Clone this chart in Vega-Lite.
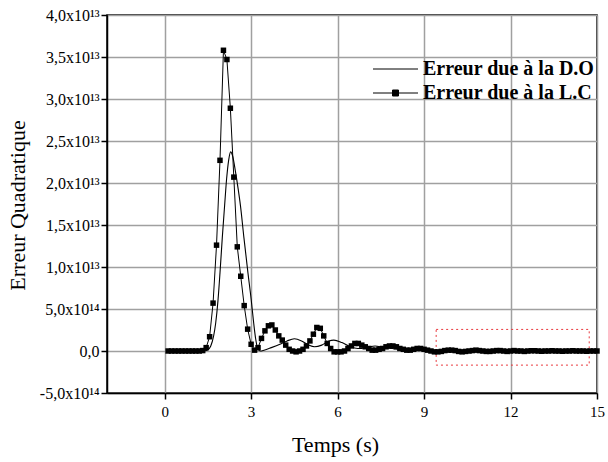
{
  "$schema": "https://vega.github.io/schema/vega-lite/v6.json",
  "width": 490,
  "height": 378,
  "autosize": {"type": "none"},
  "padding": {"left": 107, "top": 15, "right": 11, "bottom": 69},
  "background": "white",
  "datasets": {
    "do": [
      {"t": 0.1, "e": 0}, {"t": 0.5, "e": 0}, {"t": 1.0, "e": 0}, {"t": 1.3, "e": 0},
      {"t": 1.4, "e": 0.003}, {"t": 1.5, "e": 0.015}, {"t": 1.6, "e": 0.06}, {"t": 1.7, "e": 0.18},
      {"t": 1.77, "e": 0.33}, {"t": 1.85, "e": 0.6}, {"t": 1.92, "e": 0.93}, {"t": 2.0, "e": 1.35},
      {"t": 2.08, "e": 1.73}, {"t": 2.15, "e": 2.05}, {"t": 2.22, "e": 2.27}, {"t": 2.29, "e": 2.37},
      {"t": 2.36, "e": 2.32}, {"t": 2.46, "e": 2.13}, {"t": 2.55, "e": 1.93}, {"t": 2.63, "e": 1.73},
      {"t": 2.75, "e": 1.35}, {"t": 2.89, "e": 0.93}, {"t": 3.0, "e": 0.62}, {"t": 3.09, "e": 0.33},
      {"t": 3.16, "e": 0.14}, {"t": 3.23, "e": 0.03}, {"t": 3.32, "e": 0.0}, {"t": 3.45, "e": 0.01},
      {"t": 3.7, "e": 0.04}, {"t": 4.0, "e": 0.08}, {"t": 4.25, "e": 0.12}, {"t": 4.5, "e": 0.145},
      {"t": 4.75, "e": 0.12}, {"t": 5.0, "e": 0.07}, {"t": 5.2, "e": 0.05}, {"t": 5.45, "e": 0.07},
      {"t": 5.7, "e": 0.12}, {"t": 5.87, "e": 0.13}, {"t": 6.15, "e": 0.1}, {"t": 6.44, "e": 0.05},
      {"t": 6.7, "e": 0.03}, {"t": 7.0, "e": 0.04}, {"t": 7.3, "e": 0.06}, {"t": 7.6, "e": 0.04},
      {"t": 7.9, "e": 0.03}, {"t": 8.2, "e": 0.02}, {"t": 8.5, "e": 0.03}, {"t": 8.8, "e": 0.02},
      {"t": 9.1, "e": 0.01}, {"t": 9.5, "e": 0.0}, {"t": 10.0, "e": 0.005}, {"t": 10.5, "e": 0.0},
      {"t": 11.0, "e": 0.003}, {"t": 12.0, "e": 0.0}, {"t": 13.0, "e": 0.0}, {"t": 14.0, "e": 0.0},
      {"t": 15.0, "e": 0.0}
    ],
    "lc": [
      {"t": 0.12, "e": 0}, {"t": 0.24, "e": 0}, {"t": 0.36, "e": 0}, {"t": 0.48, "e": 0},
      {"t": 0.6, "e": 0}, {"t": 0.72, "e": 0}, {"t": 0.84, "e": 0}, {"t": 0.96, "e": 0},
      {"t": 1.08, "e": 0}, {"t": 1.2, "e": 0}, {"t": 1.32, "e": 0.005}, {"t": 1.44, "e": 0.04},
      {"t": 1.56, "e": 0.17}, {"t": 1.68, "e": 0.57}, {"t": 1.8, "e": 1.26}, {"t": 1.92, "e": 2.27},
      {"t": 2.04, "e": 3.58}, {"t": 2.16, "e": 3.47}, {"t": 2.28, "e": 2.89}, {"t": 2.4, "e": 2.07},
      {"t": 2.52, "e": 1.24}, {"t": 2.64, "e": 0.89}, {"t": 2.76, "e": 0.54}, {"t": 2.88, "e": 0.26},
      {"t": 3.0, "e": 0.08}, {"t": 3.12, "e": 0.01}, {"t": 3.24, "e": 0.04}, {"t": 3.36, "e": 0.15},
      {"t": 3.48, "e": 0.24}, {"t": 3.6, "e": 0.3}, {"t": 3.72, "e": 0.31}, {"t": 3.84, "e": 0.25},
      {"t": 3.96, "e": 0.18}, {"t": 4.08, "e": 0.13}, {"t": 4.2, "e": 0.07}, {"t": 4.32, "e": 0.02},
      {"t": 4.44, "e": 0.0}, {"t": 4.56, "e": -0.01}, {"t": 4.68, "e": 0.0}, {"t": 4.8, "e": 0.02},
      {"t": 4.92, "e": 0.06}, {"t": 5.04, "e": 0.12}, {"t": 5.16, "e": 0.2}, {"t": 5.28, "e": 0.28},
      {"t": 5.4, "e": 0.27}, {"t": 5.52, "e": 0.18}, {"t": 5.64, "e": 0.09}, {"t": 5.76, "e": 0.03},
      {"t": 5.88, "e": -0.01}, {"t": 6.0, "e": -0.01}, {"t": 6.12, "e": -0.01}, {"t": 6.24, "e": 0.0},
      {"t": 6.36, "e": 0.03}, {"t": 6.48, "e": 0.06}, {"t": 6.6, "e": 0.09}, {"t": 6.72, "e": 0.09},
      {"t": 6.84, "e": 0.07}, {"t": 6.96, "e": 0.05}, {"t": 7.08, "e": 0.03}, {"t": 7.2, "e": 0.01},
      {"t": 7.32, "e": 0.01}, {"t": 7.44, "e": 0.02}, {"t": 7.56, "e": 0.03}, {"t": 7.68, "e": 0.05},
      {"t": 7.8, "e": 0.06}, {"t": 7.92, "e": 0.06}, {"t": 8.04, "e": 0.05}, {"t": 8.16, "e": 0.03},
      {"t": 8.28, "e": 0.02}, {"t": 8.4, "e": 0.01}, {"t": 8.52, "e": 0.01}, {"t": 8.64, "e": 0.02},
      {"t": 8.76, "e": 0.03}, {"t": 8.88, "e": 0.03}, {"t": 9.0, "e": 0.02}, {"t": 9.12, "e": 0.01},
      {"t": 9.24, "e": 0.0}, {"t": 9.36, "e": -0.01}, {"t": 9.48, "e": -0.01}, {"t": 9.6, "e": -0.005},
      {"t": 9.72, "e": 0.005}, {"t": 9.84, "e": 0.01}, {"t": 9.96, "e": 0.01}, {"t": 10.08, "e": 0.005},
      {"t": 10.2, "e": -0.005}, {"t": 10.32, "e": -0.01}, {"t": 10.44, "e": -0.005}, {"t": 10.56, "e": 0.0},
      {"t": 10.68, "e": 0.005}, {"t": 10.8, "e": 0.01}, {"t": 10.92, "e": 0.005}, {"t": 11.04, "e": 0.0},
      {"t": 11.16, "e": -0.005}, {"t": 11.28, "e": -0.005}, {"t": 11.4, "e": 0.0}, {"t": 11.52, "e": 0.005},
      {"t": 11.64, "e": 0.005}, {"t": 11.76, "e": 0.0}, {"t": 11.88, "e": -0.005}, {"t": 12.0, "e": 0.0},
      {"t": 12.12, "e": 0.005}, {"t": 12.24, "e": 0.0}, {"t": 12.36, "e": 0.0}, {"t": 12.48, "e": -0.005},
      {"t": 12.6, "e": 0.0}, {"t": 12.72, "e": 0.003}, {"t": 12.84, "e": 0.003}, {"t": 12.96, "e": 0.0},
      {"t": 13.08, "e": -0.003}, {"t": 13.2, "e": 0.0}, {"t": 13.32, "e": 0.0}, {"t": 13.44, "e": 0.003},
      {"t": 13.56, "e": 0.0}, {"t": 13.68, "e": 0.0}, {"t": 13.8, "e": -0.003}, {"t": 13.92, "e": 0.0},
      {"t": 14.04, "e": 0.0}, {"t": 14.16, "e": 0.003}, {"t": 14.28, "e": 0.0}, {"t": 14.4, "e": 0.0},
      {"t": 14.52, "e": 0.0}, {"t": 14.64, "e": -0.003}, {"t": 14.76, "e": 0.0}, {"t": 14.88, "e": 0.0},
      {"t": 15.0, "e": 0.0}
    ]
  },
  "layer": [
    {
      "data": {"values": [{"t1": 9.42, "t2": 14.73, "e1": 0.257, "e2": -0.168}]},
      "mark": {"type": "rect", "filled": false, "stroke": "#e8383d", "strokeWidth": 1, "strokeDash": [2, 3]},
      "encoding": {
        "x": {"field": "t1", "type": "quantitative", "scale": {"domain": [-2, 15], "nice": false, "zero": false},
          "axis": {"values": [0, 3, 6, 9, 12, 15], "title": "Temps (s)", "titleX": 228, "titleY": 51, "titleBaseline": "middle"}},
        "x2": {"field": "t2"},
        "y": {"field": "e1", "type": "quantitative", "scale": {"domain": [-0.5, 4.0], "nice": false, "zero": false},
          "axis": {
            "values": [-0.5, 0, 0.5, 1.0, 1.5, 2.0, 2.5, 3.0, 3.5, 4.0],
            "title": "Erreur Quadratique",
            "titleX": -90, "titleY": 190, "titleBaseline": "middle", "titleAngle": -90,
            "labelFontSize": 16,
            "labelExpr": "datum.value == 0 ? '0,0' : datum.value == 0.5 ? '5,0x10¹⁴' : datum.value == -0.5 ? '-5,0x10¹⁴' : replace(format(datum.value, '.1f'), '.', ',') + 'x10¹³'"
          }},
        "y2": {"field": "e2"}
      }
    },
    {
      "data": {"name": "do"},
      "mark": {"type": "line", "interpolate": "monotone", "strokeWidth": 1.1},
      "encoding": {
        "x": {"field": "t", "type": "quantitative"},
        "y": {"field": "e", "type": "quantitative"},
        "color": {
          "datum": "D.O", "type": "nominal",
          "scale": {"domain": ["D.O", "L.C"], "range": ["black", "black"]},
          "legend": {
            "orient": "none", "legendX": 291, "legendY": 44, "title": null,
            "padding": 0, "symbolSize": 100, "labelOffset": 5, "rowPadding": 4,
            "labelFont": "Liberation Serif", "labelFontSize": 20, "labelFontWeight": "bold",
            "labelColor": "black", "labelLimit": 400,
            "labelExpr": "'Erreur due à la ' + datum.label",
            "encode": {
              "symbols": {
                "update": {
                  "shape": {"signal": "datum.value === 'L.C' ? 'M-7,0H2M-3.1,-0.6H-1.9V0.6H-3.1Z' : 'M-7,0H2'"},
                  "fill": {"value": "black"},
                  "fillOpacity": {"value": 1},
                  "stroke": {"value": "black"},
                  "strokeWidth": {"value": 1},
                  "opacity": {"value": 1}
                }
              }
            }
          }
        }
      }
    },
    {
      "data": {"name": "lc"},
      "mark": {"type": "line", "strokeWidth": 1},
      "encoding": {
        "x": {"field": "t", "type": "quantitative"},
        "y": {"field": "e", "type": "quantitative"},
        "color": {"datum": "L.C", "type": "nominal"}
      }
    },
    {
      "data": {"name": "lc"},
      "mark": {"type": "point", "shape": "square", "filled": true, "color": "black", "opacity": 1, "size": 30},
      "encoding": {
        "x": {"field": "t", "type": "quantitative"},
        "y": {"field": "e", "type": "quantitative"}
      }
    }
  ],
  "config": {
    "font": "Liberation Serif",
    "view": {"stroke": "black", "strokeWidth": 1.5},
    "axis": {
      "domainColor": "black", "domainWidth": 1.5,
      "tickColor": "black", "tickWidth": 1.5, "tickSize": 6,
      "labelFont": "Liberation Serif", "labelFontSize": 15, "labelColor": "black", "labelPadding": 2,
      "titleFont": "Liberation Serif", "titleFontSize": 22, "titleFontWeight": "normal", "titleColor": "black",
      "gridColor": "#a0a0a0", "gridWidth": 1.5, "gridOpacity": 1
    },
    "axisX": {"labelPadding": 5, "labelFlush": false},
    "axisY": {"labelFlush": false}
  }
}
